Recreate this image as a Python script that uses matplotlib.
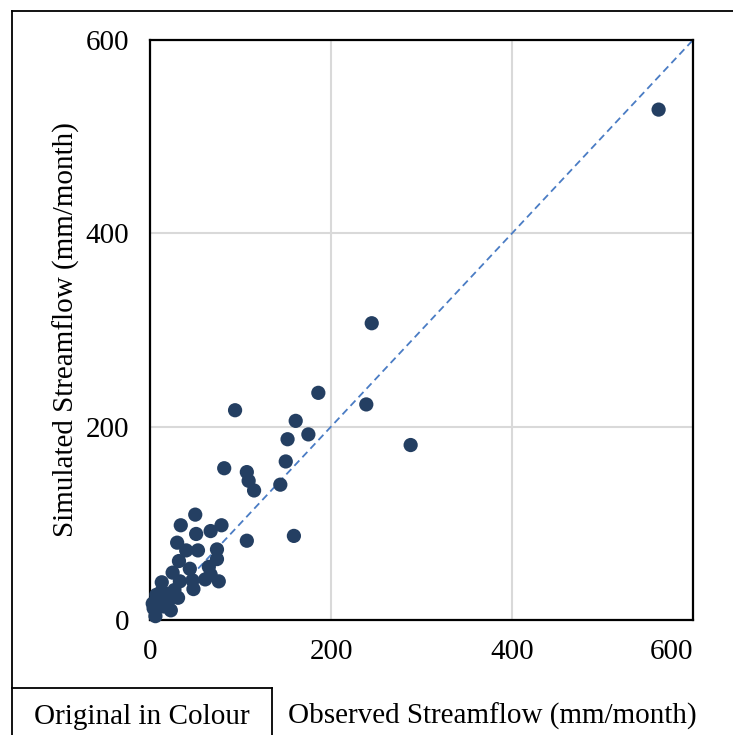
import matplotlib
matplotlib.use('Agg')
from matplotlib import pyplot as plt
from matplotlib.lines import Line2D

plt.rcParams['font.family'] = ['Liberation Serif', 'DejaVu Serif']

# observed vs simulated monthly streamflow (mm/month)
observed = [562, 245, 288, 239, 186, 94, 161, 175, 152, 150, 82, 107, 109, 115, 144,
            107, 159, 50, 34, 79, 67, 51, 30, 53, 40, 74, 74, 32, 44, 65, 25, 67,
            61, 76, 47, 33, 13, 48, 27, 13, 7, 31, 20, 3, 15, 23, 6, 8, 11, 17, 4]
simulated = [528, 307, 181, 223, 235, 217, 206, 192, 187, 164, 157, 153, 144, 134, 140,
             82, 87, 109, 98, 98, 92, 89, 80, 72, 72, 73, 63, 61, 53, 55, 49, 47,
             42, 40, 41, 40, 39, 32, 31, 30, 26, 23, 19, 17, 14, 10, 4, 21, 24, 27, 12]
ticks = [0, 200, 400, 600]

fig = plt.figure(figsize=(7.33, 7.35), dpi=100)
W, H = 733, 735
ax = fig.add_axes([150 / W, 1 - 620 / H, 543 / W, 580 / H])

ax.plot([0, 600], [0, 600], linestyle=(0, (4, 2.5)), color='#4a7cc4', lw=1.3, zorder=2)
ax.scatter(observed, simulated, s=105, color='#243f62', edgecolors='none', zorder=3,
           clip_on=False)

ax.set_xlim(0, 600)
ax.set_ylim(0, 600)
ax.set_xticks(ticks)
ax.set_yticks(ticks)
ax.grid(True, color='#d9d9d9', lw=1.5)
ax.set_axisbelow(True)
for s in ax.spines.values():
    s.set_color('black')
    s.set_linewidth(1.6)
ax.tick_params(length=0, labelsize=21)
ax.tick_params(axis='y', pad=15)
ax.tick_params(axis='x', pad=14)
ax.get_xticklabels()[-1].set_ha('right')
ax.set_ylabel('Simulated Streamflow (mm/month)', fontsize=21, labelpad=4)

fig.text(697 / W, 1 - 716 / H, 'Observed Streamflow (mm/month)', fontsize=21,
         ha='right', va='center')
fig.text(142 / W, 1 - 717 / H, 'Original in Colour', fontsize=21,
         ha='center', va='center')

# outer frame and caption box
fig.add_artist(Line2D([12 / W, 1], [1 - 11 / H, 1 - 11 / H], color='black', lw=1.3))
fig.add_artist(Line2D([12 / W, 12 / W], [0, 1 - 11 / H], color='black', lw=1.3))
fig.add_artist(Line2D([12 / W, 272 / W], [1 - 688 / H, 1 - 688 / H], color='black', lw=1.3))
fig.add_artist(Line2D([272 / W, 272 / W], [0, 1 - 688 / H], color='black', lw=1.3))

fig.savefig('out.png', dpi=100)
